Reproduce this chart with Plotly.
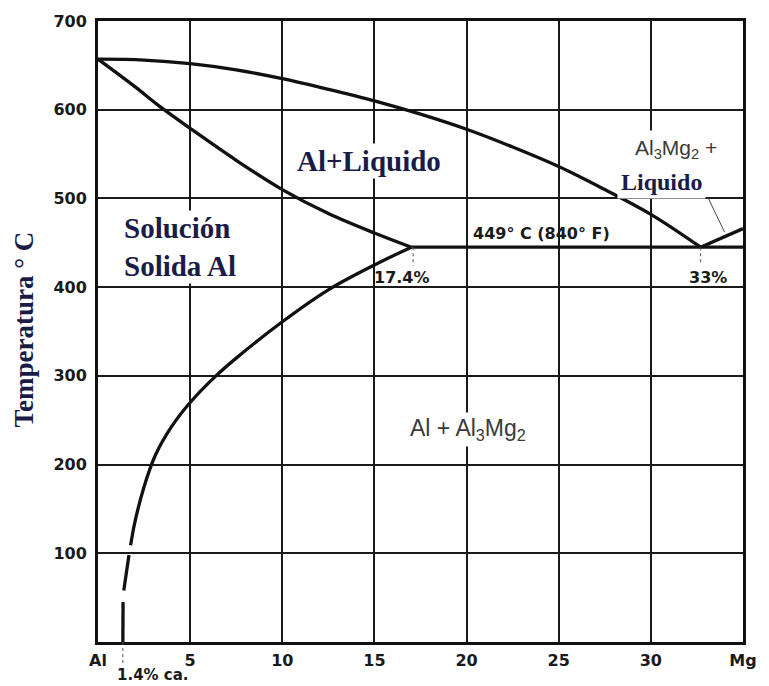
import plotly.graph_objects as go

# ---- data (wt% Mg, temperature in deg C) ----
liquidus_x = [0, 2.5, 5, 7.5, 10, 12.5, 15, 17.5, 20, 22.5, 25, 27.5, 30, 32.7]
liquidus_T = [657, 656, 652, 645, 635, 623, 610, 595, 578, 558, 536, 510, 482, 445]

solidus_x = [0, 2.0, 3.33, 5, 7.5, 10, 12.5, 15, 17.0]
solidus_T = [657, 626, 604, 579, 543, 510, 483, 461, 445]

solvus_x = [17.0, 15.0, 12.5, 10.0, 7.5, 6.4, 5.0, 4.0, 3.1, 2.5, 2.0, 1.77]
solvus_T = [445, 425, 397, 361, 320, 300, 270, 243, 210, 175, 135, 109]

solvus_dash_x = [1.68, 1.40, None, 1.36, 1.35]
solvus_dash_T = [98, 58, None, 45, 0]

eutectic_x = [17.0, 35]
eutectic_T = [445, 445]

liq_mg_x = [32.7, 35]
liq_mg_T = [445, 466]

x_tickvals = [0, 5, 10, 15, 20, 25, 30, 35]
x_ticktext = ["Al", "5", "10", "15", "20", "25", "30", "Mg"]
y_tickvals = [100, 200, 300, 400, 500, 600, 700]

ink = "#111111"
navy = "#1b1b48"
line_w = 3.3

fig = go.Figure()

def curve(x, y, spline=True):
    fig.add_trace(go.Scatter(
        x=x, y=y, mode="lines",
        line=dict(color=ink, width=line_w,
                  shape="spline" if spline else "linear", smoothing=1.0),
        hoverinfo="skip", showlegend=False))

curve(liquidus_x, liquidus_T)
curve(solidus_x, solidus_T)
curve(solvus_x, solvus_T)
curve(solvus_dash_x, solvus_dash_T, spline=False)
curve(eutectic_x, eutectic_T, spline=False)
curve(liq_mg_x, liq_mg_T, spline=False)

# leader line for "Liquido" (Mg side)
fig.add_trace(go.Scatter(x=[33.1, 34.0], y=[501, 462], mode="lines",
                         line=dict(color="#444", width=1), hoverinfo="skip",
                         showlegend=False))

shapes = [
    dict(type="line", xref="x", yref="y", x0=17.1, x1=17.1, y0=445, y1=424,
         line=dict(color="#555", width=1, dash="dot")),
    dict(type="line", xref="x", yref="y", x0=32.7, x1=32.7, y0=445, y1=428,
         line=dict(color="#555", width=1, dash="dot")),
    dict(type="line", xref="x", yref="paper", x0=1.35, x1=1.35, y0=0, y1=-0.038,
         line=dict(color="#555", width=1, dash="dot")),
]

serif = "Liberation Serif"
sans = "Liberation Sans"
dv = "DejaVu Sans"

annotations = [
    dict(x=-0.115, y=0.503, xref="paper", yref="paper", text="Temperatura ° C",
         textangle=-90, showarrow=False, xanchor="center", yanchor="middle",
         font=dict(family=serif, size=27, color=navy, weight="bold")),
    dict(x=1.3, y=445, xref="x", yref="y", text="Solución<br>Solida Al",
         xanchor="left", align="left", showarrow=False, bgcolor="white", borderpad=1,
         font=dict(family=serif, size=29, color=navy, weight="bold")),
    dict(x=14.7, y=542, xref="x", yref="y", text="Al+Liquido", showarrow=False,
         bgcolor="white", borderpad=1,
         font=dict(family=serif, size=29, color=navy, weight="bold")),
    dict(x=31.35, y=556, xref="x", yref="y",
         text="Al<sub>3</sub>Mg<sub>2</sub> +", showarrow=False,
         bgcolor="white", borderpad=5,
         font=dict(family=sans, size=21, color="#3a3a3a")),
    dict(x=30.6, y=519, xref="x", yref="y", text="Liquido", showarrow=False,
         bgcolor="white", borderpad=3,
         font=dict(family=serif, size=24, color=navy, weight="bold")),
    dict(x=20.1, y=239, xref="x", yref="y",
         text="Al + Al<sub>3</sub>Mg<sub>2</sub>", showarrow=False,
         bgcolor="white", borderpad=2,
         font=dict(family=sans, size=23, color="#3a3a3a")),
    dict(x=24.05, y=461, xref="x", yref="y", text="449° C (840° F)", showarrow=False,
         font=dict(family=dv, size=16, color="#1a1a1a", weight="bold")),
    dict(x=16.5, y=411, xref="x", yref="y", text="17.4%", showarrow=False,
         font=dict(family=dv, size=16, color="#1a1a1a", weight="bold")),
    dict(x=33.1, y=411, xref="x", yref="y", text="33%", showarrow=False,
         font=dict(family=dv, size=16, color="#1a1a1a", weight="bold")),
    dict(x=1.35, y=-0.053, xref="x", yref="paper", text="1.4% ca.", showarrow=False,
         xanchor="left", xshift=-7, yanchor="middle", borderpad=0,
         font=dict(family=dv, size=15, color="#1a1a1a", weight="bold")),
]

tickfont = dict(family=dv, size=16, color="#1a1a1a", weight="bold")

fig.update_layout(
    width=769, height=686,
    margin=dict(l=98, r=19, t=20, b=44),
    paper_bgcolor="white", plot_bgcolor="white",
    shapes=shapes, annotations=annotations,
    xaxis=dict(range=[0, 35], tickvals=x_tickvals, ticktext=x_ticktext,
               showgrid=True, gridcolor="#1a1a1a", gridwidth=2,
               showline=True, linecolor=ink, linewidth=3, mirror=True,
               zeroline=False, ticks="", tickfont=tickfont, ticklabelstandoff=2),
    yaxis=dict(range=[0, 700], tickvals=y_tickvals,
               showgrid=True, gridcolor="#1a1a1a", gridwidth=2,
               showline=True, linecolor=ink, linewidth=3, mirror=True,
               zeroline=False, ticks="", tickfont=tickfont, ticklabelstandoff=5),
)

fig.write_html("out.html")
